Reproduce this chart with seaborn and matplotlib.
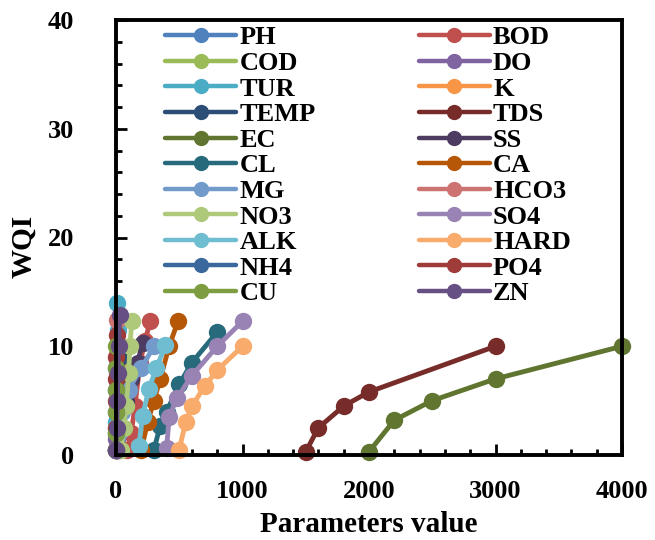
import colorsys
import numpy as np
import pandas as pd
import matplotlib
matplotlib.use("Agg")
import matplotlib.pyplot as plt
from matplotlib.colors import to_rgb, to_hex
from matplotlib.ticker import MultipleLocator
from matplotlib.lines import Line2D
import seaborn as sns

# ---------------- data ----------------
params = ["PH", "BOD", "COD", "DO", "TUR", "K", "TEMP", "TDS", "EC", "SS", "CL", "CA",
          "MG", "HCO3", "NO3", "SO4", "ALK", "HARD", "NH4", "PO4", "CU", "ZN"]

x_PH = [6.5, 7.0, 7.5, 8.0, 8.5, 9.0]
y_PH = [0.5, 1.5, 3.0, 5.0, 7.0, 9.0]
x_BOD = [90, 120, 150, 190, 230, 270]
y_BOD = [0.5, 2.0, 4.5, 8.5, 10.5, 12.3]
x_COD = [0, 5, 10, 20, 30, 50]
y_COD = [0.5, 2.0, 4.0, 6.0, 8.0, 9.5]
x_DO = [0, 2, 4, 6, 8, 10]
y_DO = [0.5, 1.5, 3.0, 5.0, 7.0, 9.0]
x_TUR = [0, 2, 5, 10, 15, 5]
y_TUR = [0.5, 3.0, 6.0, 9.0, 11.5, 14.0]
x_K = [0, 2, 5, 10, 15, 20]
y_K = [0.5, 2.0, 4.0, 6.0, 8.0, 10.1]
x_TEMP = [5, 10, 15, 20, 25, 30]
y_TEMP = [0.5, 2.0, 4.0, 6.0, 7.5, 9.0]
x_TDS = [1500, 1600, 1800, 2000, 3000]
y_TDS = [0.3, 2.5, 4.5, 5.8, 10.0]
x_EC = [2000, 2200, 2500, 3000, 4000]
y_EC = [0.3, 3.2, 5.0, 7.0, 10.0]
x_SS = [20, 50, 80, 120, 170, 210]
y_SS = [0.5, 2.5, 5.0, 7.0, 8.5, 10.3]
x_CL = [300, 350, 400, 500, 600, 800]
y_CL = [0.5, 2.7, 4.0, 6.5, 8.5, 11.3]
x_CA = [200, 250, 300, 350, 420, 490]
y_CA = [0.5, 3.0, 5.0, 7.0, 10.0, 12.3]
x_MG = [0, 20, 50, 100, 200, 300]
y_MG = [0.5, 2.0, 4.0, 6.0, 8.0, 10.0]
x_HCO3 = [0, 2, 4, 6, 8, 10]
y_HCO3 = [0.5, 2.5, 5.0, 7.5, 10.0, 12.4]
x_NO3 = [40, 60, 80, 100, 110, 125]
y_NO3 = [0.5, 2.5, 4.5, 7.5, 10.0, 12.3]
x_SO4 = [400, 420, 480, 600, 800, 1000]
y_SO4 = [0.6, 3.5, 5.2, 7.3, 10.0, 12.3]
x_ALK = [180, 210, 260, 320, 390]
y_ALK = [0.8, 3.6, 6.1, 8.0, 10.1]
x_HARD = [500, 550, 600, 700, 800, 1000]
y_HARD = [0.5, 3.0, 4.5, 6.3, 7.8, 10.0]
x_NH4 = [0, 0.5, 1, 2, 3, 5]
y_NH4 = [0.5, 2.0, 4.0, 6.0, 8.0, 10.0]
x_PO4 = [0, 0.5, 1, 2, 3, 5]
y_PO4 = [0.5, 2.5, 5.0, 7.0, 9.0, 11.0]
x_CU = [0, 0.2, 0.5, 1, 2, 3]
y_CU = [0.5, 2.0, 4.0, 6.0, 8.0, 10.0]
x_ZN = [0, 5, 10, 15, 20, 30]
y_ZN = [0.5, 2.5, 5.0, 7.5, 10.0, 12.9]

xticks = [0, 1000, 2000, 3000, 4000]
yticks = [0, 10, 20, 30, 40]

series = {p: (globals()["x_" + p], globals()["y_" + p]) for p in params}
rows = []
for p in params:
    xs, ys = series[p]
    for i, (xv, yv) in enumerate(zip(xs, ys)):
        rows.append({"Parameter": p, "value": xv, "WQI": yv, "order": i})
df = pd.DataFrame(rows)

# ---------------- colours (Excel-style theme variants) ----------------
base = ["#4F81BD", "#C0504D", "#9BBB59", "#8064A2", "#4BACC6", "#F79646"]

def shade(hexc, mod, off=0.0):
    h, l, s = colorsys.rgb_to_hls(*to_rgb(hexc))
    l = min(1.0, l * mod + off)
    return to_hex(colorsys.hls_to_rgb(h, l, s))

cols = []
for i in range(len(params)):
    b = base[i % 6]
    grp = i // 6
    if grp == 0:
        cols.append(b)
    elif grp == 1:
        cols.append(shade(b, 0.6))
    elif grp == 2:
        cols.append(shade(b, 0.8, 0.2))
    else:
        cols.append(shade(b, 0.8))
palette = dict(zip(params, cols))

# ---------------- plot ----------------
sns.set_theme(style="white")
plt.rcParams["font.family"] = ["Liberation Serif", "DejaVu Serif"]
plt.rcParams["font.weight"] = "bold"
for k in ["text.color", "axes.labelcolor", "xtick.color", "ytick.color", "axes.edgecolor"]:
    plt.rcParams[k] = "black"

fig = plt.figure(figsize=(6.55, 5.4), dpi=100)
ax = fig.add_axes([116 / 655, 1 - 455 / 540, (622 - 116) / 655, (455 - 20) / 540])

MS = 12.5
LW = 3.5
sns.lineplot(data=df, x="value", y="WQI", hue="Parameter", hue_order=params,
             palette=palette, marker="o", markersize=MS, markeredgewidth=0,
             linewidth=LW, sort=False, estimator=None, clip_on=False,
             legend=False, ax=ax)

ax.set_xlim(0, 4000)
ax.set_ylim(0, 40)
ax.set_xticks(xticks)
ax.set_yticks(yticks)
ax.xaxis.set_minor_locator(MultipleLocator(200))
ax.yaxis.set_minor_locator(MultipleLocator(2))
ax.tick_params(axis="both", which="both", direction="in", width=2, color="black",
               bottom=True, left=True, top=False, right=False)
ax.tick_params(axis="both", which="major", length=8, labelsize=19, labelcolor="black")
ax.tick_params(axis="both", which="minor", length=4)
ax.tick_params(axis="x", which="major", pad=18)
ax.tick_params(axis="y", which="major", pad=30)
for lab in ax.get_xticklabels() + ax.get_yticklabels():
    lab.set_fontweight("bold")
for sp in ax.spines.values():
    sp.set_color("black")
    sp.set_linewidth(2.8)

ax.set_xlabel("Parameters value", fontsize=21, fontweight="bold", labelpad=6, color="black")
ax.set_ylabel("WQI", fontsize=21, fontweight="bold", labelpad=6, color="black")
ax.yaxis.set_label_coords(-0.155, 0.48)

# legend: two columns, row-major like the reference
handles = {p: Line2D([], [], color=palette[p], marker="o", markersize=11,
                     markeredgewidth=0, linewidth=3.2) for p in params}
order = params[0::2] + params[1::2]
leg = ax.legend([handles[p] for p in order], order, ncol=2, loc="upper left",
                bbox_to_anchor=(165 / 655, 1 - 26 / 540), bbox_transform=fig.transFigure,
                frameon=False, fontsize=19, handlelength=2.7, handletextpad=0.12,
                labelspacing=0.08, columnspacing=3.9, borderpad=0, borderaxespad=0)
for t in leg.get_texts():
    t.set_fontweight("bold")
    t.set_color("black")

fig.savefig("out.png", dpi=100)
